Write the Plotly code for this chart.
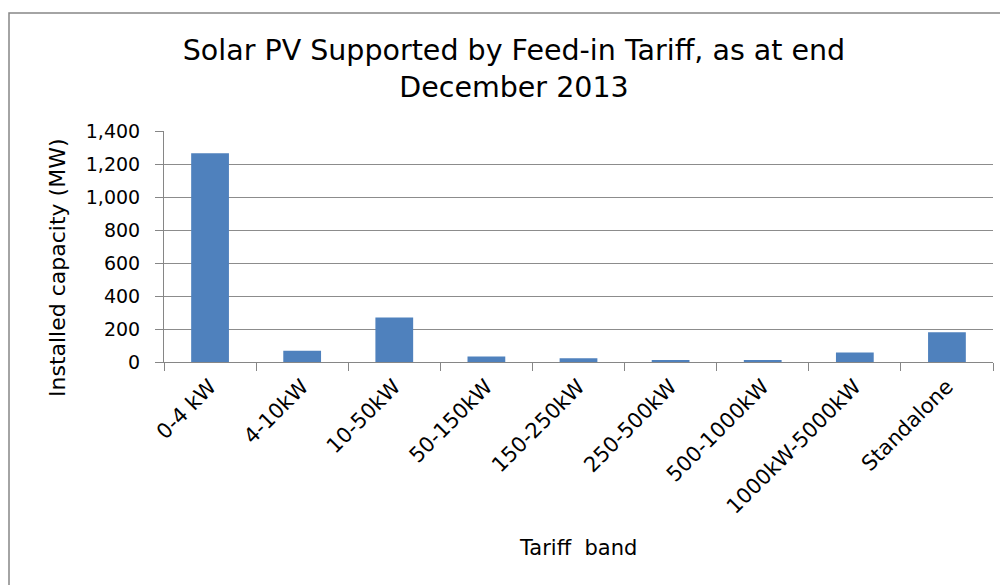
import plotly.graph_objects as go

categories = ["0-4 kW", "4-10kW", "10-50kW", "50-150kW", "150-250kW",
              "250-500kW", "500-1000kW", "1000kW-5000kW", "Standalone"]
capacity_mw = [1265, 68, 270, 34, 22, 12, 12, 58, 181]
y_ticks = [0, 200, 400, 600, 800, 1000, 1200, 1400]
y_tick_labels = ["0", "200", "400", "600", "800", "1,000", "1,200", "1,400"]

# page body has an 8px margin, so the figure is drawn 8px smaller
OFF = 8
W, H = 1000, 577
L, R, T, B = 156, 15, 123, 223
pw, ph = W - L - R, H - T - B

def px_x(p):
    return (p - OFF - L) / pw

def px_y(p):
    return (H - B - (p - OFF)) / ph

font = "DejaVu Sans, Liberation Sans, Arial, sans-serif"

fig = go.Figure(go.Bar(
    x=categories, y=capacity_mw,
    marker=dict(color="#4F81BD", line=dict(width=0)),
))

fig.update_layout(
    width=W, height=H,
    margin=dict(l=L, r=R, t=T, b=B, autoexpand=False),
    paper_bgcolor="white", plot_bgcolor="white",
    bargap=0.59,
    showlegend=False,
    font=dict(family=font, color="#000000"),
    title=dict(
        text="Solar PV Supported by Feed-in Tariff, as at end<br>December 2013",
        x=(514 - OFF) / W, xanchor="center", xref="container",
        y=1 - (60 - OFF) / H, yanchor="middle", yref="container",
        font=dict(size=28.5, family=font, color="#000000"),
    ),
    xaxis=dict(
        type="category",
        tickangle=-45,
        tickfont=dict(size=21, family=font, color="#000000"),
        ticks="outside", tickson="boundaries", ticklen=8,
        tickcolor="#868686", tickwidth=1,
        ticklabelstandoff=3,
        showline=True, linecolor="#868686", linewidth=1,
        showgrid=False, automargin=False,
    ),
    yaxis=dict(
        range=[0, 1400],
        tickvals=y_ticks, ticktext=y_tick_labels,
        tickfont=dict(size=19, family=font, color="#000000"),
        ticks="outside", ticklen=8, tickcolor="#868686", tickwidth=1,
        ticklabelstandoff=11,
        showline=True, linecolor="#868686", linewidth=1,
        showgrid=True, gridcolor="#8c8c8c", gridwidth=1,
        zeroline=False, automargin=False,
    ),
    annotations=[
        dict(text="Tariff  band", xref="paper", yref="paper",
             x=px_x(578), y=px_y(548), xanchor="center", yanchor="middle",
             showarrow=False, font=dict(size=21, family=font, color="#000000")),
        dict(text="Installed capacity (MW)", xref="paper", yref="paper",
             x=px_x(57), y=px_y(268), xanchor="center", yanchor="middle",
             textangle=-90, showarrow=False,
             font=dict(size=22, family=font, color="#000000")),
    ],
    shapes=[
        dict(type="rect", xref="paper", yref="paper",
             x0=px_x(9), x1=px_x(1030), y0=px_y(640), y1=px_y(13),
             line=dict(color="#868686", width=1.5), fillcolor="rgba(0,0,0,0)",
             layer="below"),
    ],
)

fig.write_html("out.html")
